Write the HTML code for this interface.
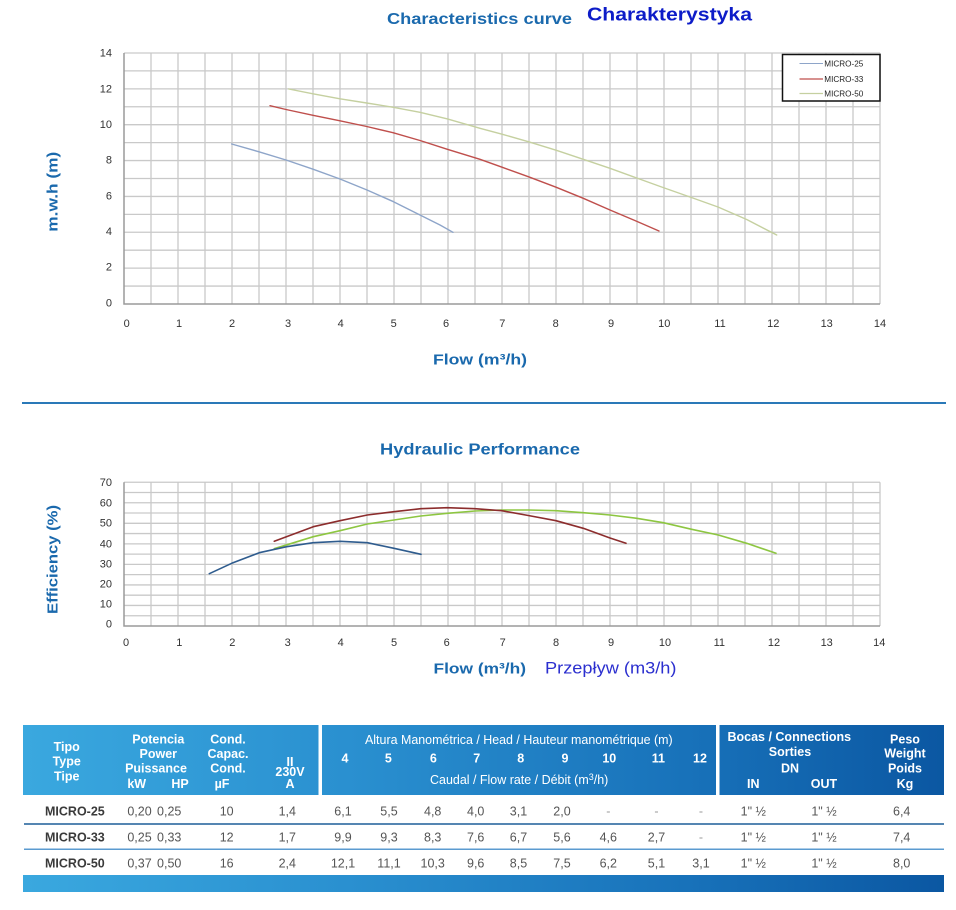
<!DOCTYPE html>
<html><head><meta charset="utf-8"><style>
html,body{margin:0;padding:0;background:#fff;}
svg{display:block;}
text{font-family:"Liberation Sans",Arial,sans-serif;}
</style></head><body>
<svg width="956" height="910" viewBox="0 0 956 910" xmlns="http://www.w3.org/2000/svg">
<defs>
<linearGradient id="hg" x1="23" y1="0" x2="944" y2="0" gradientUnits="userSpaceOnUse">
<stop offset="0" stop-color="#3aa8df"/>
<stop offset="0.35" stop-color="#2a90d0"/>
<stop offset="0.72" stop-color="#1872ba"/>
<stop offset="1" stop-color="#0b57a2"/>
</linearGradient>
</defs>
<rect width="956" height="910" fill="#fff"/>

<!-- Titles -->
<text x="387" y="24" font-size="15.5" font-weight="bold" fill="#1a69ad" textLength="185" lengthAdjust="spacingAndGlyphs">Characteristics curve</text>
<text x="587" y="20.7" font-size="18.5" font-weight="bold" fill="#0d1cc8" textLength="165" lengthAdjust="spacingAndGlyphs">Charakterystyka</text>

<!-- Top chart grid -->
<g stroke="#c9c9c9" stroke-width="1.3" fill="none">
<path d="M151 53V304M178 53V304M205 53V304M232 53V304M259 53V304M286 53V304M313 53V304M340 53V304M367 53V304M394 53V304M421 53V304M448 53V304M475 53V304M502 53V304M529 53V304M556 53V304M583 53V304M610 53V304M637 53V304M664 53V304M691 53V304M718 53V304M745 53V304M772 53V304M799 53V304M826 53V304M853 53V304M880 53V304"/>
<path d="M124 286.07H880M124 268.14H880M124 250.21H880M124 232.28H880M124 214.35H880M124 196.42H880M124 178.49H880M124 160.56H880M124 142.63H880M124 124.7H880M124 106.77H880M124 88.84H880M124 70.91H880M124 53H880"/>
</g>
<path d="M124 53V304H880" stroke="#9a9a9a" stroke-width="1.5" fill="none"/>

<!-- Top chart y labels -->
<g font-size="11" fill="#333" text-anchor="end">
<text x="112" y="56.3">14</text>
<text x="112" y="92.3">12</text>
<text x="112" y="128">10</text>
<text x="112" y="163.7">8</text>
<text x="112" y="199.3">6</text>
<text x="112" y="235">4</text>
<text x="112" y="270.7">2</text>
<text x="112" y="306.3">0</text>
</g>
<g font-size="11" fill="#333" text-anchor="middle">
<text x="126.7" y="327">0</text><text x="179" y="327">1</text><text x="232" y="327">2</text><text x="288" y="327">3</text><text x="340.7" y="327">4</text><text x="393.7" y="327">5</text><text x="446" y="327">6</text><text x="502.3" y="327">7</text><text x="555.7" y="327">8</text><text x="611" y="327">9</text><text x="664.3" y="327">10</text><text x="720" y="327">11</text><text x="773.3" y="327">12</text><text x="826.7" y="327">13</text><text x="880" y="327">14</text>
</g>

<!-- Top curves -->
<g fill="none" stroke-width="1.4" stroke-linejoin="round" stroke-linecap="round">
<polyline stroke="#8ea5c9" points="231.7,144 259,151.8 286,160 313,169.2 340,179 367,190 393.5,201.7 420,215 440,225 453,232.3"/>
<polyline stroke="#bf4f4c" points="270,105.7 286,109.5 313,115.3 340,120.8 366.7,126.5 393,132.7 420,140.5 447,149.2 480,159.3 502,167.2 528.3,176.7 556,187.2 583.3,198.3 610,210 636,221 659,231"/>
<polyline stroke="#c5d0a0" points="288.7,89 313,93.8 340,98.8 366.7,103 393.3,107.3 420,112.3 447,118.8 480,128.3 502,134.2 528.3,141.7 556,150.2 583.3,159.3 610,168.3 636.7,178 663,187.5 690,197 718,207 746.7,219.5 776.7,235"/>
</g>

<!-- Legend -->
<rect x="782.5" y="54.5" width="97.5" height="46.5" fill="#fff" stroke="#111" stroke-width="1.5"/>
<line x1="799.5" y1="63.5" x2="823" y2="63.5" stroke="#8ea5c9" stroke-width="1"/>
<line x1="799.5" y1="79" x2="823" y2="79" stroke="#bf4f4c" stroke-width="1.3"/>
<line x1="799.5" y1="93.5" x2="823" y2="93.5" stroke="#c5d0a0" stroke-width="1.3"/>
<g font-size="8" fill="#222">
<text x="824.3" y="66.3" textLength="39" lengthAdjust="spacingAndGlyphs">MICRO-25</text>
<text x="824.3" y="81.8" textLength="39" lengthAdjust="spacingAndGlyphs">MICRO-33</text>
<text x="824.3" y="96.3" textLength="39" lengthAdjust="spacingAndGlyphs">MICRO-50</text>
</g>

<!-- Axis titles top -->
<text transform="translate(57.5,191.7) rotate(-90)" text-anchor="middle" font-size="15" font-weight="bold" fill="#1a69ad" textLength="80" lengthAdjust="spacingAndGlyphs">m.w.h (m)</text>
<text x="433" y="364.5" font-size="15" font-weight="bold" fill="#1a69ad" textLength="94" lengthAdjust="spacingAndGlyphs">Flow (m³/h)</text>

<!-- Separator -->
<line x1="22" y1="403" x2="946" y2="403" stroke="#2a79b8" stroke-width="2"/>

<text x="380" y="454.5" font-size="15.5" font-weight="bold" fill="#1a69ad" textLength="200" lengthAdjust="spacingAndGlyphs">Hydraulic Performance</text>

<!-- Bottom chart grid -->
<g stroke="#c9c9c9" stroke-width="1.3" fill="none">
<path d="M151 482.2V626M178 482.2V626M205 482.2V626M232 482.2V626M259 482.2V626M286 482.2V626M313 482.2V626M340 482.2V626M367 482.2V626M394 482.2V626M421 482.2V626M448 482.2V626M475 482.2V626M502 482.2V626M529 482.2V626M556 482.2V626M583 482.2V626M610 482.2V626M637 482.2V626M664 482.2V626M691 482.2V626M718 482.2V626M745 482.2V626M772 482.2V626M799 482.2V626M826 482.2V626M853 482.2V626M880 482.2V626"/>
<path d="M124 615.73H880M124 605.46H880M124 595.19H880M124 584.92H880M124 574.65H880M124 564.38H880M124 554.11H880M124 543.84H880M124 533.57H880M124 523.3H880M124 513.03H880M124 502.76H880M124 492.49H880M124 482.22H880"/>
</g>
<path d="M124 482.2V626H880" stroke="#9a9a9a" stroke-width="1.5" fill="none"/>

<g font-size="11" fill="#333" text-anchor="end">
<text x="112" y="486">70</text>
<text x="112" y="506.7">60</text>
<text x="112" y="526.7">50</text>
<text x="112" y="547.3">40</text>
<text x="112" y="567.3">30</text>
<text x="112" y="587.3">20</text>
<text x="112" y="607.3">10</text>
<text x="112" y="627.3">0</text>
</g>
<g font-size="11" fill="#333" text-anchor="middle">
<text x="126" y="646">0</text><text x="179.3" y="646">1</text><text x="232.3" y="646">2</text><text x="287.7" y="646">3</text><text x="340.7" y="646">4</text><text x="394" y="646">5</text><text x="446.7" y="646">6</text><text x="502.7" y="646">7</text><text x="556" y="646">8</text><text x="611" y="646">9</text><text x="665" y="646">10</text><text x="719.3" y="646">11</text><text x="774" y="646">12</text><text x="826.7" y="646">13</text><text x="879.3" y="646">14</text>
</g>

<!-- Bottom curves -->
<g fill="none" stroke-width="1.6" stroke-linejoin="round" stroke-linecap="round">
<polyline stroke="#8dc641" points="274.3,548.7 313.3,536.7 340,530.7 367.3,524 394,520 420.7,516 447.3,513.3 475,511 501.7,510 528.3,510 556,510.7 583.3,512.7 610,515 636.7,518.3 663.3,522.7 691.7,529.3 718.3,535 746.7,543.3 776,553.3"/>
<polyline stroke="#2f5c8e" points="209.3,573.7 231.7,563.3 259.3,552.7 286.7,546.7 313.3,542.7 340,541.3 367.3,542.7 394,548.3 421,554.3"/>
<polyline stroke="#8c2d2d" points="274.3,541.3 313.3,526.7 340,520.7 367.3,515 394,511.7 420.7,508.7 447.3,507.7 475,508.7 501.7,510.7 528.3,515.5 556,520.7 583.3,528.3 610,538 626,543.3"/>
</g>

<text transform="translate(57.5,559.5) rotate(-90)" text-anchor="middle" font-size="15" font-weight="bold" fill="#1a69ad" textLength="109" lengthAdjust="spacingAndGlyphs">Efficiency (%)</text>
<text x="433.5" y="673.5" font-size="15" font-weight="bold" fill="#1a69ad" textLength="92.5" lengthAdjust="spacingAndGlyphs">Flow (m³/h)</text>
<text x="545" y="673.5" font-size="17" fill="#2b2fcf" textLength="131.5" lengthAdjust="spacingAndGlyphs">Przepływ (m3/h)</text>

<!-- Table header -->
<rect x="23" y="725" width="921" height="70" fill="url(#hg)"/>
<rect x="318.5" y="725" width="3.5" height="70" fill="#fff"/>
<rect x="716" y="725" width="3.5" height="70" fill="#fff"/>

<g fill="#fff" font-size="12.5" font-weight="bold" text-anchor="middle">
<text x="66.7" y="751">Tipo</text>
<text x="66.7" y="765.5">Type</text>
<text x="66.7" y="780.5">Tipe</text>
<text x="158.3" y="743.5">Potencia</text>
<text x="158.3" y="758">Power</text>
<text x="156" y="772.3">Puissance</text>
<text x="136.7" y="788">kW</text>
<text x="180" y="788">HP</text>
<text x="228" y="743.5">Cond.</text>
<text x="228" y="758">Capac.</text>
<text x="228" y="772.3">Cond.</text>
<text x="222" y="788">µF</text>
<text x="290" y="766">II</text>
<text x="290" y="776">230V</text>
<text x="290" y="788">A</text>
<text x="345" y="762.5">4</text>
<text x="388.3" y="762.5">5</text>
<text x="433.3" y="762.5">6</text>
<text x="476.7" y="762.5">7</text>
<text x="520.7" y="762.5">8</text>
<text x="565" y="762.5">9</text>
<text x="609.3" y="762.5">10</text>
<text x="658.3" y="762.5">11</text>
<text x="700" y="762.5">12</text>
<text x="789.3" y="741">Bocas / Connections</text>
<text x="790" y="756">Sorties</text>
<text x="790" y="772.5">DN</text>
<text x="753.3" y="788">IN</text>
<text x="824" y="788">OUT</text>
<text x="905" y="743.5">Peso</text>
<text x="905" y="757.5">Weight</text>
<text x="905" y="772.5">Poids</text>
<text x="905" y="788">Kg</text>
</g>
<g fill="#fff" font-size="12.5">
<text x="365" y="744" textLength="307.7" lengthAdjust="spacingAndGlyphs">Altura Manométrica / Head / Hauteur manométrique (m)</text>
<text x="430" y="784" textLength="178.3" lengthAdjust="spacingAndGlyphs">Caudal / Flow rate / Débit (m<tspan font-size="9" dy="-4">3</tspan><tspan dy="4">/h)</tspan></text>
</g>

<!-- Table rows -->
<line x1="24" y1="824" x2="944" y2="824" stroke="#1d5e98" stroke-width="1.5"/>
<line x1="24" y1="849.3" x2="944" y2="849.3" stroke="#5b9bd0" stroke-width="1.5"/>

<g font-size="12.5" font-weight="bold" fill="#3a3a3a">
<text x="45" y="815.3">MICRO-25</text>
<text x="45" y="841.3">MICRO-33</text>
<text x="45" y="867.3">MICRO-50</text>
</g>
<g font-size="12.5" fill="#555" text-anchor="middle">
<text x="139.5" y="815.3">0,20</text><text x="169.2" y="815.3">0,25</text><text x="226.7" y="815.3">10</text><text x="287.3" y="815.3">1,4</text>
<text x="343" y="815.3">6,1</text><text x="389" y="815.3">5,5</text><text x="432.7" y="815.3">4,8</text><text x="475.7" y="815.3">4,0</text><text x="518.5" y="815.3">3,1</text><text x="562" y="815.3">2,0</text><text x="608.3" y="815.3" fill="#999">-</text><text x="656.5" y="815.3" fill="#999">-</text><text x="701" y="815.3" fill="#999">-</text>
<text x="753.3" y="815.3">1&quot; ½</text><text x="824" y="815.3">1&quot; ½</text><text x="901.7" y="815.3">6,4</text>

<text x="139.5" y="841.3">0,25</text><text x="169.2" y="841.3">0,33</text><text x="226.7" y="841.3">12</text><text x="287.3" y="841.3">1,7</text>
<text x="343" y="841.3">9,9</text><text x="389" y="841.3">9,3</text><text x="432.7" y="841.3">8,3</text><text x="475.7" y="841.3">7,6</text><text x="518.5" y="841.3">6,7</text><text x="562" y="841.3">5,6</text><text x="608.3" y="841.3">4,6</text><text x="656.5" y="841.3">2,7</text><text x="701" y="841.3" fill="#999">-</text>
<text x="753.3" y="841.3">1&quot; ½</text><text x="824" y="841.3">1&quot; ½</text><text x="901.7" y="841.3">7,4</text>

<text x="139.5" y="867.3">0,37</text><text x="169.2" y="867.3">0,50</text><text x="226.7" y="867.3">16</text><text x="287.3" y="867.3">2,4</text>
<text x="343" y="867.3">12,1</text><text x="389" y="867.3">11,1</text><text x="432.7" y="867.3">10,3</text><text x="475.7" y="867.3">9,6</text><text x="518.5" y="867.3">8,5</text><text x="562" y="867.3">7,5</text><text x="608.3" y="867.3">6,2</text><text x="656.5" y="867.3">5,1</text><text x="701" y="867.3">3,1</text>
<text x="753.3" y="867.3">1&quot; ½</text><text x="824" y="867.3">1&quot; ½</text><text x="901.7" y="867.3">8,0</text>
</g>

<rect x="23" y="875" width="921" height="17" fill="url(#hg)"/>
</svg>
</body></html>
